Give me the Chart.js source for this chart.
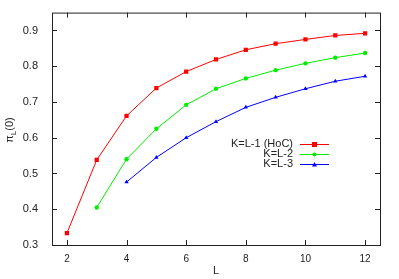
<!DOCTYPE html>
<html>
<head>
<meta charset="utf-8">
<script src="https://cdn.jsdelivr.net/npm/chart.js@4/dist/chart.umd.min.js"></script>
<style>
  html, body { margin: 0; padding: 0; background: #fff; }
  #wrap { width: 399px; height: 279px; }
</style>
</head>
<body>
<div id="wrap"><canvas id="c"></canvas></div>
<script>
const sizes = [2, 3, 4, 5, 6, 7, 8, 9, 10, 11, 12];
const hocLabel = 'K=L-1 (HoC)';
const hocValues = [0.333, 0.538, 0.661, 0.739, 0.785, 0.819, 0.846, 0.863, 0.875, 0.886, 0.892];
const km2Label = 'K=L-2';
const km2Values = [null, 0.405, 0.540, 0.625, 0.692, 0.737, 0.766, 0.789, 0.808, 0.824, 0.837];
const km3Label = 'K=L-3';
const km3Values = [null, null, 0.476, 0.545, 0.600, 0.645, 0.685, 0.713, 0.737, 0.758, 0.772];
const xTicks = [2, 4, 6, 8, 10, 12];
const yTicks = [0.3, 0.4, 0.5, 0.6, 0.7, 0.8, 0.9];

function points(vals) {
  return sizes.map((x, i) => ({ x, y: vals[i] })).filter((p) => p.y !== null);
}

// gnuplot-style frame with inward ticks and a legend on the right
const framePlugin = {
  id: 'frame',
  afterDraw(chart) {
    const { ctx, chartArea: a, scales } = chart;
    ctx.save();
    ctx.strokeStyle = '#222';
    ctx.lineWidth = 1;
    ctx.strokeRect(a.left + 0.5, a.top + 0.5, a.right - a.left, a.bottom - a.top);
    ctx.beginPath();
    xTicks.forEach((t) => {
      const x = Math.round(scales.x.getPixelForValue(t)) + 0.5;
      ctx.moveTo(x, a.bottom); ctx.lineTo(x, a.bottom - 5);
      ctx.moveTo(x, a.top); ctx.lineTo(x, a.top + 5);
    });
    yTicks.forEach((t) => {
      const y = Math.round(scales.y.getPixelForValue(t)) + 0.5;
      ctx.moveTo(a.left, y); ctx.lineTo(a.left + 5, y);
      ctx.moveTo(a.right, y); ctx.lineTo(a.right - 5, y);
    });
    ctx.stroke();

    // y title: pi_L(0)
    ctx.translate(13, 130);
    ctx.rotate(-Math.PI / 2);
    ctx.fillStyle = '#222';
    ctx.textBaseline = 'alphabetic';
    ctx.font = '11px "Liberation Sans", Arial, sans-serif';
    const w1 = ctx.measureText('π').width;
    ctx.font = '8px "Liberation Sans", Arial, sans-serif';
    const w2 = ctx.measureText('L').width;
    ctx.font = '11px "Liberation Sans", Arial, sans-serif';
    const w3 = ctx.measureText('(0)').width;
    let x0 = -(w1 + w2 + w3) / 2;
    ctx.fillText('π', x0, 0);
    ctx.font = '8px "Liberation Sans", Arial, sans-serif';
    ctx.fillText('L', x0 + w1, 3);
    ctx.font = '11px "Liberation Sans", Arial, sans-serif';
    ctx.fillText('(0)', x0 + w1 + w2, 0);
    ctx.restore();

    // legend
    ctx.save();
    ctx.font = '11px "Liberation Sans", Arial, sans-serif';
    ctx.textAlign = 'right';
    ctx.textBaseline = 'middle';
    chart.data.datasets.forEach((ds, i) => {
      const y = 143.5 + i * 10.3;
      ctx.fillStyle = '#222';
      ctx.fillText(ds.label, 293, y);
      ctx.strokeStyle = ds.borderColor;
      ctx.lineWidth = 1;
      ctx.beginPath();
      ctx.moveTo(300, Math.round(y) + 0.5);
      ctx.lineTo(329, Math.round(y) + 0.5);
      ctx.stroke();
      ctx.fillStyle = ds.borderColor;
      const cx = 314.5, cy = Math.round(y) + 0.5;
      if (i === 0) {
        ctx.fillRect(cx - 2.5, cy - 2.5, 5, 5);
      } else if (i === 1) {
        ctx.beginPath(); ctx.arc(cx, cy, 2, 0, Math.PI * 2); ctx.fill();
      } else {
        ctx.beginPath();
        ctx.moveTo(cx, cy - 2.5); ctx.lineTo(cx + 2.5, cy + 2); ctx.lineTo(cx - 2.5, cy + 2);
        ctx.closePath(); ctx.fill();
      }
    });
    ctx.restore();
  },
};

new Chart(document.getElementById('c').getContext('2d'), {
  type: 'line',
  data: {
    datasets: [
      {
        label: hocLabel,
        data: points(hocValues),
        borderColor: '#ff0000',
        backgroundColor: '#ff0000',
        borderWidth: 1,
        pointStyle: 'rect',
        pointRadius: 3,
        pointBorderWidth: 0,
      },
      {
        label: km2Label,
        data: points(km2Values),
        borderColor: '#00ee00',
        backgroundColor: '#00ee00',
        borderWidth: 1,
        pointStyle: 'circle',
        pointRadius: 2.2,
        pointBorderWidth: 0,
      },
      {
        label: km3Label,
        data: points(km3Values),
        borderColor: '#0000ff',
        backgroundColor: '#0000ff',
        borderWidth: 1,
        pointStyle: 'triangle',
        pointRadius: 2.5,
        pointBorderWidth: 0,
      },
    ],
  },
  options: {
    responsive: true,
    maintainAspectRatio: false,
    animation: false,
    layout: { padding: { left: 0, right: 19, top: 12, bottom: 0 } },
    plugins: { legend: { display: false }, tooltip: { enabled: false } },
    scales: {
      x: {
        type: 'linear',
        min: 1.5,
        max: 12.5,
        afterBuildTicks: (s) => { s.ticks = xTicks.map((v) => ({ value: v })); },
        afterFit: (s) => { s.height = 34; },
        grid: { display: false },
        border: { display: false },
        ticks: {
          color: '#222',
          padding: 0,
          maxRotation: 0,
          font: { family: '"Liberation Sans", Arial, sans-serif', size: 10 },
        },
        title: {
          display: true,
          text: 'L',
          color: '#222',
          padding: { top: 2, bottom: 1 },
          font: { family: '"Liberation Sans", Arial, sans-serif', size: 11 },
        },
      },
      y: {
        min: 0.3,
        max: 0.95,
        afterBuildTicks: (s) => { s.ticks = yTicks.map((v) => ({ value: v })); },
        afterFit: (s) => { s.width = 52; },
        grid: { display: false },
        border: { display: false },
        ticks: {
          color: '#222',
          padding: 6,
          callback: (v) => v.toFixed(1),
          font: { family: '"Liberation Sans", Arial, sans-serif', size: 11 },
        },
      },
    },
  },
  plugins: [framePlugin],
});
</script>
</body>
</html>
